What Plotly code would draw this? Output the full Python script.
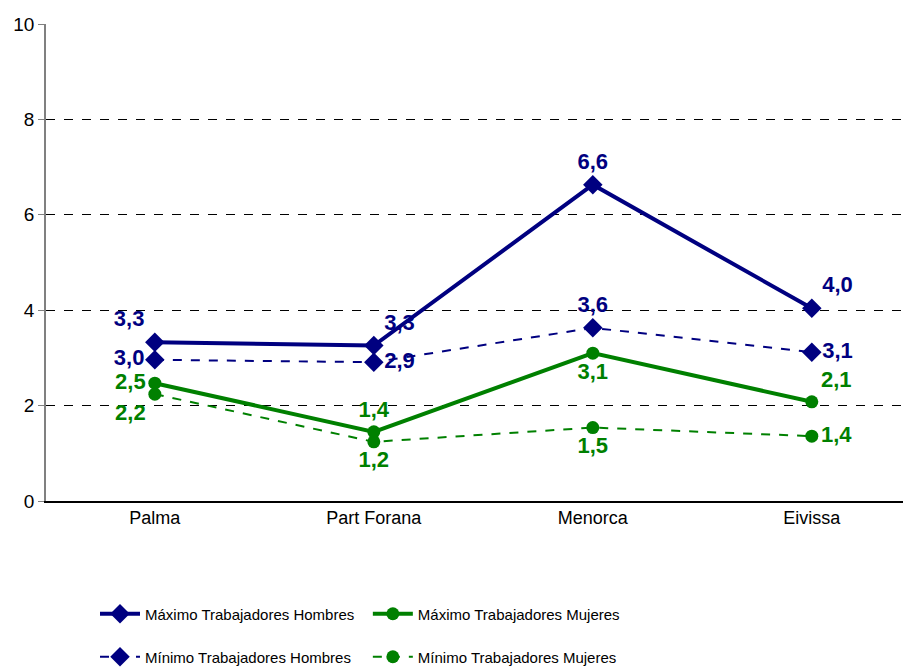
import plotly.graph_objects as go

categories = ["Palma", "Part Forana", "Menorca", "Eivissa"]
max_hombres = [3.33, 3.26, 6.63, 4.04]
min_hombres = [2.96, 2.91, 3.63, 3.12]
max_mujeres = [2.47, 1.45, 3.10, 2.08]
min_mujeres = [2.24, 1.24, 1.54, 1.36]
y_ticks = [0, 2, 4, 6, 8, 10]

NAVY = "#000080"
GREEN = "#008000"
FONT = "Liberation Sans Narrow, Arial Narrow, Liberation Sans, Arial"

fig = go.Figure()

lab_font_n = dict(family=FONT, size=22, color=NAVY)
lab_font_g = dict(family=FONT, size=22, color=GREEN)

fig.add_trace(go.Scatter(
    x=categories, y=max_hombres, name="Máximo Trabajadores Hombres",
    mode="lines+markers+text", line=dict(color=NAVY, width=4),
    marker=dict(symbol="diamond", size=15, color=NAVY),
    texttemplate="<b>%{y:.1f}</b>",
    textposition=["top left", "top right", "top center", "top right"],
    textfont=lab_font_n, legend="legend", cliponaxis=False))
fig.add_trace(go.Scatter(
    x=categories, y=max_mujeres, name="Máximo Trabajadores Mujeres",
    mode="lines+markers+text", line=dict(color=GREEN, width=4),
    marker=dict(symbol="circle", size=13, color=GREEN),
    texttemplate="<b>%{y:.1f}</b>",
    textposition=["middle left", "top center", "bottom center", "top right"],
    textfont=lab_font_g, legend="legend2", cliponaxis=False))
fig.add_trace(go.Scatter(
    x=categories, y=min_hombres, name="Mínimo Trabajadores Hombres",
    mode="lines+markers+text", line=dict(color=NAVY, width=2, dash="dash"),
    marker=dict(symbol="diamond", size=15, color=NAVY),
    texttemplate="<b>%{y:.1f}</b>",
    textposition=["middle left", "middle right", "top center", "middle right"],
    textfont=lab_font_n, legend="legend3", cliponaxis=False))
fig.add_trace(go.Scatter(
    x=categories, y=min_mujeres, name="Mínimo Trabajadores Mujeres",
    mode="lines+markers+text", line=dict(color=GREEN, width=2, dash="dash"),
    marker=dict(symbol="circle", size=13, color=GREEN),
    texttemplate="<b>%{y:.1f}</b>",
    textposition=["bottom left", "bottom center", "bottom center", "middle right"],
    textfont=lab_font_g, legend="legend4", cliponaxis=False))

leg_common = dict(orientation="v", xanchor="left", yanchor="middle",
                  xref="container", yref="container",
                  font=dict(family=FONT, size=15, color="black"),
                  bgcolor="rgba(0,0,0,0)", itemwidth=40)

col1, col2 = 0.0955, 0.395
row1, row2 = 0.0969, 0.0328

fig.update_layout(
    width=911, height=671,
    margin=dict(l=38, r=8, t=16, b=178, autoexpand=False),
    paper_bgcolor="white", plot_bgcolor="white",
    separators=", ",
    showlegend=True,
    legend=dict(x=col1, y=row1, **leg_common),
    legend2=dict(x=col2, y=row1, **leg_common),
    legend3=dict(x=col1, y=row2, **leg_common),
    legend4=dict(x=col2, y=row2, **leg_common),
    xaxis=dict(range=[-0.497, 3.453], showline=True, linecolor="black", linewidth=1.5,
               showgrid=False, zeroline=False, ticks="",
               tickfont=dict(family=FONT, size=18, color="black")),
    yaxis=dict(range=[0, 10], tickvals=y_ticks, showline=True, linecolor="#808080",
               linewidth=1.5, ticks="outside", ticklen=6, tickcolor="#808080",
               showgrid=True, gridcolor="black", gridwidth=1, griddash="dash",
               zeroline=False,
               tickfont=dict(family=FONT, size=19, color="black")),
)

fig.write_html("out.html")
